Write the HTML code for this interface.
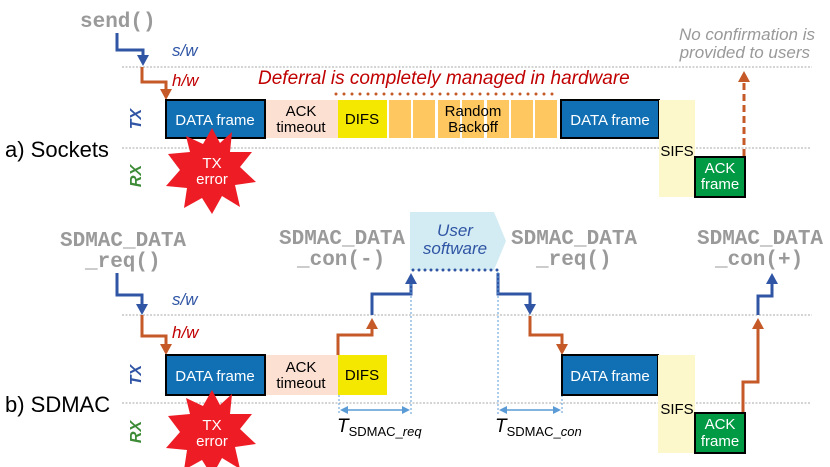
<!DOCTYPE html>
<html><head><meta charset="utf-8"><style>
body{margin:0;background:#fff}
svg{display:block}
text{font-family:"Liberation Sans",sans-serif}
.m{font-family:"Liberation Mono",monospace;font-weight:bold;fill:#9a9a9a;font-size:21px}
.w{fill:#fff;font-size:15px}
.k{fill:#000;font-size:15px}
.it{font-style:italic}
</style></head><body>
<svg width="830" height="467" viewBox="0 0 830 467" xmlns="http://www.w3.org/2000/svg">
<!-- ===== a) Sockets ===== -->
<text class="m" x="80" y="27">send()</text>
<path d="M117,33 V50 H143 V56" fill="none" stroke="#2f55a4" stroke-width="3"/>
<polygon points="137,55 149,55 143,66" fill="#2f55a4"/>
<text x="172" y="56" class="it" fill="#2f55a4" font-size="17">s/w</text>
<line x1="122" y1="67" x2="812" y2="67" stroke="#aaa" stroke-width="1" stroke-dasharray="2,1.5"/>
<path d="M142,67 V82 H166 V90" fill="none" stroke="#c55a28" stroke-width="3"/>
<polygon points="160,89 172,89 166,100" fill="#c55a28"/>
<text x="172" y="86" class="it" fill="#c00000" font-size="17">h/w</text>
<text x="258" y="84" class="it" fill="#c00000" font-size="19">Deferral is completely managed in hardware</text>
<line x1="336" y1="94" x2="557" y2="94" stroke="#c55a28" stroke-width="3" stroke-linecap="round" stroke-dasharray="0,8"/>
<text x="0" y="0" transform="translate(141,119) rotate(-90)" text-anchor="middle" font-weight="bold" font-style="italic" fill="#2f55a4" font-size="16">TX</text>
<text x="0" y="0" transform="translate(141,176) rotate(-90)" text-anchor="middle" font-weight="bold" font-style="italic" fill="#3d8b37" font-size="16">RX</text>
<text x="5" y="157" font-size="22" fill="#000">a) Sockets</text>
<rect x="265" y="100" width="73" height="38" fill="#fce0d2"/>
<text class="k" x="301" y="116" text-anchor="middle">ACK</text>
<text class="k" x="301" y="132" text-anchor="middle">timeout</text>
<rect x="338" y="100" width="49" height="38" fill="#f5e800"/>
<text class="k" x="362" y="124" text-anchor="middle">DIFS</text>
<g fill="#fec75f">
<rect x="389" y="100" width="22" height="38"/><rect x="413" y="100" width="22" height="38"/><rect x="438" y="100" width="22" height="38"/><rect x="462" y="100" width="22" height="38"/><rect x="487" y="100" width="22" height="38"/><rect x="511" y="100" width="22" height="38"/><rect x="535" y="100" width="22" height="38"/>
</g>
<text class="k" x="473" y="116" text-anchor="middle">Random</text>
<text class="k" x="473" y="132" text-anchor="middle">Backoff</text>
<rect x="166" y="100" width="99" height="38" fill="#1170b4" stroke="#000" stroke-width="2"/>
<text class="w" x="215" y="125" text-anchor="middle">DATA frame</text>
<rect x="561" y="100" width="98" height="38" fill="#1170b4" stroke="#000" stroke-width="2"/>
<text class="w" x="610" y="125" text-anchor="middle">DATA frame</text>
<line x1="122" y1="148" x2="810" y2="148" stroke="#aaa" stroke-width="1" stroke-dasharray="2,1.5"/>
<rect x="659" y="100" width="36" height="97" fill="#fdf8cb"/>
<text class="k" x="677" y="156" text-anchor="middle">SIFS</text>
<rect x="695" y="157" width="50" height="40" fill="#009a44" stroke="#000" stroke-width="2"/>
<text class="w" x="720" y="173" text-anchor="middle">ACK</text>
<text class="w" x="720" y="189" text-anchor="middle">frame</text>
<line x1="744" y1="156" x2="744" y2="82" stroke="#c55a28" stroke-width="3" stroke-dasharray="7,4"/>
<polygon points="738,82 750,82 744,71" fill="#c55a28"/>
<text x="815" y="40" text-anchor="end" class="it" fill="#999" font-size="17">No confirmation is</text>
<text x="810" y="58" text-anchor="end" class="it" fill="#999" font-size="17">provided to users</text>
<polygon id="star" fill="#ee1c25" points="232,132 230,152 252,152 240,167 256,182 235,185 240,207 222,196 212,214 202,198 184,208 187,188 166,186 180,170 168,154 190,152 186,136 203,144 212,128 220,143"/>
<text class="w" x="212" y="168" text-anchor="middle">TX</text>
<text class="w" x="212" y="184" text-anchor="middle">error</text>

<!-- ===== b) SDMAC ===== -->
<text class="m" x="60" y="246">SDMAC_DATA</text>
<text class="m" x="85" y="267">_req()</text>
<path d="M117,273 V295 H142 V305" fill="none" stroke="#2f55a4" stroke-width="3"/>
<polygon points="136,304 148,304 142,315" fill="#2f55a4"/>
<text x="172" y="305" class="it" fill="#2f55a4" font-size="17">s/w</text>
<line x1="122" y1="315" x2="812" y2="315" stroke="#aaa" stroke-width="1" stroke-dasharray="2,1.5"/>
<path d="M142,315 V336 H166 V345" fill="none" stroke="#c55a28" stroke-width="3"/>
<polygon points="160,344 172,344 166,355" fill="#c55a28"/>
<text x="172" y="338" class="it" fill="#c00000" font-size="17">h/w</text>
<text x="0" y="0" transform="translate(141,375) rotate(-90)" text-anchor="middle" font-weight="bold" font-style="italic" fill="#2f55a4" font-size="16">TX</text>
<text x="0" y="0" transform="translate(141,432) rotate(-90)" text-anchor="middle" font-weight="bold" font-style="italic" fill="#3d8b37" font-size="16">RX</text>
<text x="5" y="412" font-size="22" fill="#000">b) SDMAC</text>
<rect x="265" y="355" width="73" height="40" fill="#fce0d2"/>
<text class="k" x="301" y="372" text-anchor="middle">ACK</text>
<text class="k" x="301" y="388" text-anchor="middle">timeout</text>
<rect x="338" y="355" width="49" height="40" fill="#f5e800"/>
<text class="k" x="362" y="380" text-anchor="middle">DIFS</text>
<rect x="166" y="355" width="99" height="40" fill="#1170b4" stroke="#000" stroke-width="2"/>
<text class="w" x="215" y="381" text-anchor="middle">DATA frame</text>
<line x1="122" y1="403" x2="810" y2="403" stroke="#aaa" stroke-width="1" stroke-dasharray="2,1.5"/>
<use href="#star" transform="translate(0,262)"/>
<text class="w" x="212" y="430" text-anchor="middle">TX</text>
<text class="w" x="212" y="446" text-anchor="middle">error</text>

<!-- user software -->
<polygon points="410,212 494,212 506,241 494,270 410,270" fill="#d3ecf3"/>
<text x="455" y="236" text-anchor="middle" class="it" fill="#2f55a4" font-size="17">User</text>
<text x="455" y="254" text-anchor="middle" class="it" fill="#2f55a4" font-size="17">software</text>
<line x1="413" y1="270" x2="498" y2="270" stroke="#2f55a4" stroke-width="3" stroke-linecap="round" stroke-dasharray="0,6"/>
<text class="m" x="279" y="244">SDMAC_DATA</text>
<text class="m" x="297" y="265">_con(-)</text>
<text class="m" x="511" y="244">SDMAC_DATA</text>
<text class="m" x="536" y="265">_req()</text>
<text class="m" x="697" y="244">SDMAC_DATA</text>
<text class="m" x="715" y="265">_con(+)</text>

<path d="M338,355 V335 H372 V328" fill="none" stroke="#c55a28" stroke-width="3"/>
<polygon points="366,329 378,329 372,318" fill="#c55a28"/>
<path d="M372,315 V294 H411 V283" fill="none" stroke="#2f55a4" stroke-width="3"/>
<polygon points="405,284 417,284 411,273" fill="#2f55a4"/>
<path d="M498,273 V294 H530 V305" fill="none" stroke="#2f55a4" stroke-width="3"/>
<polygon points="524,304 536,304 530,315" fill="#2f55a4"/>
<path d="M530,316 V335 H562 V345" fill="none" stroke="#c55a28" stroke-width="3"/>
<polygon points="556,344 568,344 562,355" fill="#c55a28"/>
<path d="M743,413 V382 H758 V328" fill="none" stroke="#c55a28" stroke-width="3"/>
<polygon points="752,329 764,329 758,318" fill="#c55a28"/>
<path d="M758,315 V296 H772 V283" fill="none" stroke="#2f55a4" stroke-width="3"/>
<polygon points="766,284 778,284 772,273" fill="#2f55a4"/>

<g stroke="#5b9bd5" stroke-width="1" stroke-dasharray="2,2">
<line x1="339" y1="395" x2="339" y2="415"/><line x1="411" y1="284" x2="411" y2="415"/>
<line x1="498" y1="272" x2="498" y2="415"/><line x1="562" y1="395" x2="562" y2="415"/>
</g>
<g fill="#5b9bd5">
<line x1="345" y1="410" x2="405" y2="410" stroke="#5b9bd5" stroke-width="1.5"/>
<polygon points="340,410 348,406 348,414"/><polygon points="410,410 402,406 402,414"/>
<line x1="503" y1="410" x2="557" y2="410" stroke="#5b9bd5" stroke-width="1.5"/>
<polygon points="499,410 507,406 507,414"/><polygon points="561,410 553,406 553,414"/>
</g>
<text x="337" y="432" font-size="19" class="it" fill="#000">T<tspan font-size="13" font-style="normal" dy="4">SDMAC_</tspan><tspan font-size="13" dy="0">req</tspan></text>
<text x="495" y="432" font-size="19" class="it" fill="#000">T<tspan font-size="13" font-style="normal" dy="4">SDMAC_</tspan><tspan font-size="13" dy="0">con</tspan></text>

<rect x="562" y="355" width="96" height="40" fill="#1170b4" stroke="#000" stroke-width="2"/>
<text class="w" x="610" y="381" text-anchor="middle">DATA frame</text>
<rect x="658" y="355" width="37" height="98" fill="#fdf8cb"/>
<text class="k" x="677" y="414" text-anchor="middle">SIFS</text>
<rect x="695" y="413" width="50" height="40" fill="#009a44" stroke="#000" stroke-width="2"/>
<text class="w" x="720" y="429" text-anchor="middle">ACK</text>
<text class="w" x="720" y="446" text-anchor="middle">frame</text>
</svg>
</body></html>
